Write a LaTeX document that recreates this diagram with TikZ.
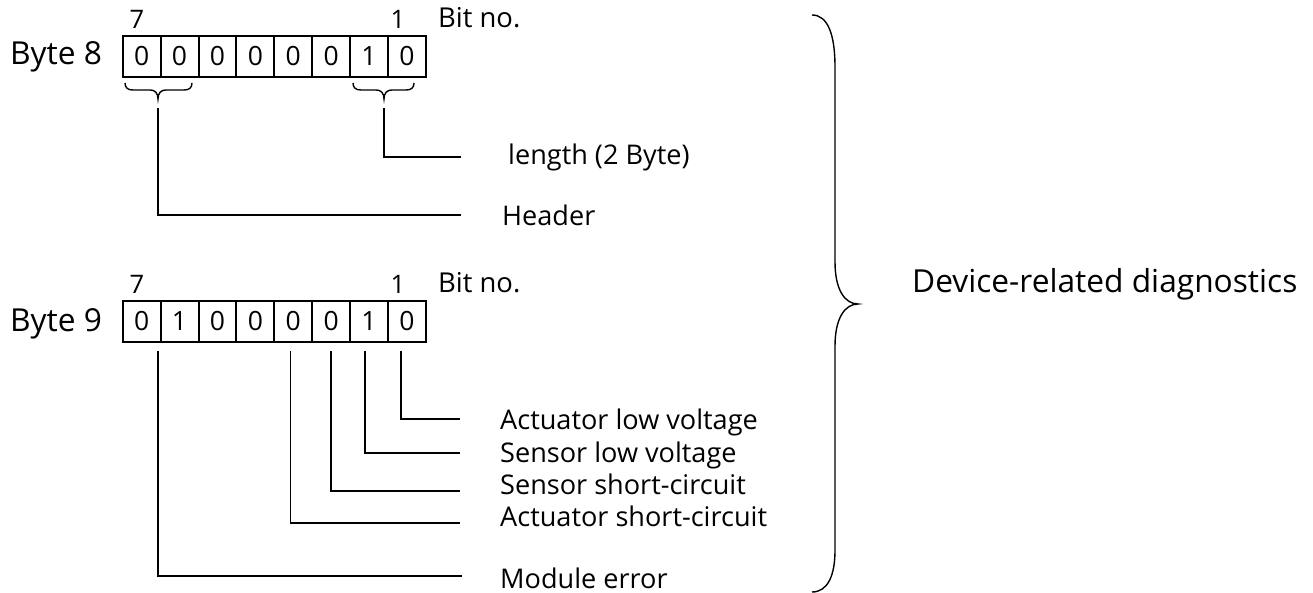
\documentclass[tikz,border=0pt]{standalone}
\usepackage{fontspec}
\setmainfont{Open Sans}
\begin{document}
\begin{tikzpicture}[x=1pt,y=-1pt,
  cell/.style={draw,line width=2pt,minimum width=37.9pt,minimum height=41pt,inner sep=0pt,anchor=north west,font=\fontsize{26.5}{28}\selectfont},
  conn/.style={line width=1.4pt},
  lbl/.style={anchor=base west,inner sep=0pt,font=\fontsize{27.1}{30}\selectfont},
  bytel/.style={anchor=base west,inner sep=0pt,font=\fontsize{31.7}{33}\selectfont},
  bitn/.style={anchor=base,inner sep=0pt,font=\fontsize{25.5}{27}\selectfont},
  bitlbl/.style={anchor=base west,inner sep=0pt,font=\fontsize{27.4}{29}\selectfont}]
\useasboundingbox (0,0) rectangle (1313,593);

% Byte 8
\node[bytel] (byte8) at (10,65) {Byte 8};
\foreach \v [count=\i] in {0,0,0,0,0,0,1,0}
  \node[cell] (b8c\i) at ({121.7+(\i-1)*37.9},35) {\v};
\node[bitn] (b8n7) at (137,28.5) {7};
\node[bitn] (b8n1) at (398,28.5) {1};
\node[bitlbl] (b8bit) at (438,28) {Bit no.};

% Byte 9
\node[bytel] (byte9) at (10,331) {Byte 9};
\foreach \v [count=\i] in {0,1,0,0,0,0,1,0}
  \node[cell] (b9c\i) at ({121.7+(\i-1)*37.9},300) {\v};
\node[bitn] (b9n7) at (137,293.5) {7};
\node[bitn] (b9n1) at (398,293.5) {1};
\node[bitlbl] (b9bit) at (438,293) {Bit no.};

% small braces under byte 8
\draw[conn] (125,83) .. controls (125,88) and (128,90) .. (133,90) -- (150,90)
  .. controls (155,90) and (158,93) .. (158,99)
  .. controls (158,93) and (161,90) .. (166,90) -- (184,90)
  .. controls (189,90) and (192,88) .. (192,83);
\draw[conn] (353,83) .. controls (353,88) and (356,90) .. (361,90) -- (376,90)
  .. controls (381,90) and (384,93) .. (384,99)
  .. controls (384,93) and (387,90) .. (392,90) -- (406,90)
  .. controls (411,90) and (414,88) .. (414,83);
\coordinate (hdtop) at (158,108);
\coordinate (lntop) at (384,108);
\coordinate (hdend) at (461,215);
\coordinate (lnend) at (461,157);
\node[lbl] (len) at (508,165) {length (2 Byte)};
\node[lbl] (hdr) at (502,226) {Header};
\draw[conn] (lntop) |- (lnend);
\draw[conn] (hdtop) |- (hdend);

% Byte 9 connectors
\coordinate (e1) at (460,419);
\coordinate (e2) at (460,453);
\coordinate (e3) at (460,491);
\coordinate (e4) at (460,523);
\coordinate (e5) at (462,576);
\draw[conn] ([xshift=-6pt,yshift=-8pt]b9c8.south) |- (e1);
\draw[conn] ([xshift=-4pt,yshift=-8pt]b9c7.south) |- (e2);
\draw[conn] ([yshift=-8pt]b9c6.south) |- (e3);
\draw[conn] ([xshift=-3pt,yshift=-8pt]b9c5.south) |- (e4);
\draw[conn] ([xshift=16.5pt,yshift=-8pt]b9c1.south) |- (e5);
\node[lbl] (alv) at (500,429) {Actuator low voltage};
\node[lbl] (slv) at (500,462) {Sensor low voltage};
\node[lbl] (ssc) at (500,494) {Sensor short-circuit};
\node[lbl] (asc) at (500,526) {Actuator short-circuit};
\node[lbl] (mer) at (500,588) {Module error};

% big brace
\draw[conn] (812,15) .. controls (828,15) and (835,35) .. (835,67) -- (835,262)
  .. controls (835,290) and (845,304) .. (858,304)
  .. controls (845,304) and (835,318) .. (835,346) -- (835,550)
  .. controls (835,575) and (828,592) .. (812,592);
\node[anchor=base west,inner sep=0pt,font=\fontsize{31.7}{33}\selectfont] (dev) at (912,293) {Device-related diagnostics};
\end{tikzpicture}
\end{document}
